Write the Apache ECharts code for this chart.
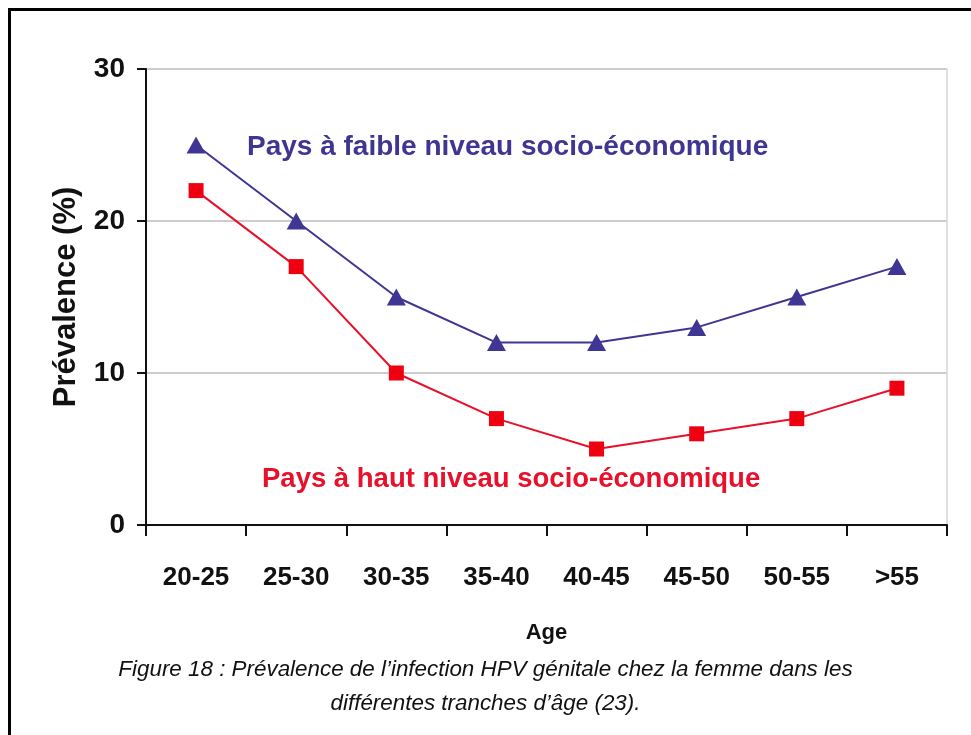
<!DOCTYPE html>
<html>
<head>
<meta charset="utf-8">
<script src="https://cdn.jsdelivr.net/npm/echarts@6/dist/echarts.min.js"></script>
<style>
  html, body { margin: 0; padding: 0; background: #fff; }
  #chart { width: 971px; height: 735px; }
</style>
</head>
<body>
<div id="chart"></div>
<script>
const ageGroups = ['20-25', '25-30', '30-35', '35-40', '40-45', '45-50', '50-55', '>55'];
const lowIncome = [25, 20, 15, 12, 12, 13, 15, 17];
const highIncome = [22, 17, 10, 7, 5, 6, 7, 9];
const yTicks = [0, 10, 20, 30];

const narrow = '"Liberation Sans Narrow", "Arial Narrow", "Liberation Sans", sans-serif';
const blue = '#3f3693';
const red = '#e8102a';

const myChart = echarts.init(document.getElementById('chart'));

const option = {
  backgroundColor: '#fff',
  animation: false,
  grid: { left: 146, right: 24, top: 69, bottom: 210 },
  xAxis: {
    type: 'category',
    data: ageGroups,
    boundaryGap: true,
    name: 'Age',
    nameLocation: 'middle',
    nameGap: 97,
    nameTextStyle: { fontFamily: narrow, fontWeight: 'bold', fontSize: 22, color: '#111' },
    axisLine: { lineStyle: { color: '#111', width: 2 } },
    axisTick: { show: true, length: 11, lineStyle: { color: '#111', width: 2 } },
    axisLabel: { margin: 40, fontFamily: narrow, fontWeight: 'bold', fontSize: 26, color: '#111' }
  },
  yAxis: [
    {
      type: 'value',
      min: yTicks[0],
      max: yTicks[yTicks.length - 1],
      interval: 10,
      name: 'Prévalence (%)',
      nameLocation: 'middle',
      nameGap: 64,
      nameRotate: 90,
      nameTextStyle: { fontFamily: narrow, fontWeight: 'bold', fontSize: 31, color: '#111' },
      axisLine: { show: true, lineStyle: { color: '#111', width: 2 } },
      axisTick: { show: true, length: 9, lineStyle: { color: '#111', width: 2 } },
      axisLabel: { margin: 21, fontFamily: narrow, fontWeight: 'bold', fontSize: 28, color: '#111' },
      splitLine: { show: true, lineStyle: { color: '#bdbdbd', width: 1.5 } }
    },
    {
      type: 'value',
      min: yTicks[0],
      max: yTicks[yTicks.length - 1],
      interval: 10,
      position: 'right',
      axisLine: { show: true, lineStyle: { color: '#d4d4d4', width: 1.5 } },
      axisTick: { show: false },
      axisLabel: { show: false },
      splitLine: { show: false }
    }
  ],
  series: [
    {
      name: 'Pays à faible niveau socio-économique',
      type: 'line',
      data: lowIncome,
      symbol: 'triangle',
      symbolSize: [19, 17],
      lineStyle: { color: blue, width: 2 },
      itemStyle: { color: blue }
    },
    {
      name: 'Pays à haut niveau socio-économique',
      type: 'line',
      data: highIncome,
      symbol: 'rect',
      symbolSize: 15,
      lineStyle: { color: red, width: 2 },
      itemStyle: { color: '#ee0010' }
    }
  ],
  graphic: [
    {
      type: 'text', left: 247, top: 133,
      style: { text: 'Pays à faible niveau socio-économique', fontFamily: narrow, fontWeight: 'bold', fontSize: 28, fill: blue }
    },
    {
      type: 'text', left: 262, top: 465,
      style: { text: 'Pays à haut niveau socio-économique', fontFamily: narrow, fontWeight: 'bold', fontSize: 27.5, fill: red }
    },
    {
      type: 'text', left: 'center', top: 659,
      style: {
        text: 'Figure 18 : Prévalence de l’infection HPV génitale chez la femme dans les',
        fontFamily: '"Liberation Sans", Arial, sans-serif', fontStyle: 'italic', fontSize: 22.4, fill: '#111'
      }
    },
    {
      type: 'text', left: 'center', top: 693,
      style: {
        text: 'différentes tranches d’âge (23).',
        fontFamily: '"Liberation Sans", Arial, sans-serif', fontStyle: 'italic', fontSize: 22.4, fill: '#111'
      }
    },
    { type: 'line', shape: { x1: 8, y1: 9.5, x2: 971, y2: 9.5 }, style: { stroke: '#000', lineWidth: 3 } },
    { type: 'line', shape: { x1: 9.5, y1: 8, x2: 9.5, y2: 735 }, style: { stroke: '#000', lineWidth: 3 } }
  ]
};

option && myChart.setOption(option);
</script>
</body>
</html>
